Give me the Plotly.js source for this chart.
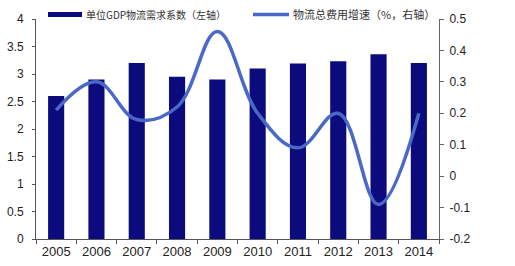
<!DOCTYPE html>
<html>
<head>
<meta charset="utf-8">
<script src="https://cdn.plot.ly/plotly-3.0.1.min.js"></script>
<style>html,body{margin:0;padding:0;background:#fff;}#chart{width:515px;height:266px;}</style>
</head>
<body>
<div id="chart"></div>
<script>
const years = ['2005','2006','2007','2008','2009','2010','2011','2012','2013','2014'];
const demandCoef = [2.6, 2.9, 3.2, 2.95, 2.9, 3.1, 3.19, 3.23, 3.36, 3.2];
const costGrowth = [0.21, 0.30, 0.18, 0.22, 0.46, 0.20, 0.09, 0.20, -0.09, 0.20];
const barName = '单位GDP物流需求系数（左轴）';
const lineName = '物流总费用增速（%，右轴）';
const leftTicks = [0, 0.5, 1, 1.5, 2, 2.5, 3, 3.5, 4];
const rightTicks = [-0.2, -0.1, 0, 0.1, 0.2, 0.3, 0.4, 0.5];

const barColor = '#0b0b7d';
const lineColor = '#4a68c6';
const tickFont = {family: 'Liberation Sans, Arial, sans-serif', size: 12, color: '#222'};
const xTickFont = {family: 'Liberation Sans, Arial, sans-serif', size: 13, color: '#222'};
const legFont1 = {family: 'Noto Sans CJK SC, sans-serif', size: 10, color: '#333'};
const legFont2 = {family: 'Noto Sans CJK SC, sans-serif', size: 11, color: '#333'};

const traces = [
  {type: 'bar', x: years, y: demandCoef, name: barName, marker: {color: barColor}, width: 0.4, yaxis: 'y'},
  {type: 'scatter', mode: 'lines', x: years, y: costGrowth, name: lineName, yaxis: 'y2',
   line: {color: lineColor, width: 3.5, shape: 'spline', smoothing: 1.1}}
];

const layout = {
  width: 515, height: 266,
  margin: {l: 36, r: 76, t: 19, b: 27, pad: 0},
  paper_bgcolor: '#fff', plot_bgcolor: '#fff',
  showlegend: false,
  xaxis: {type: 'category', range: [-0.5, 9.5], showgrid: false, zeroline: false,
    showline: true, linecolor: '#555', linewidth: 1,
    ticks: 'outside', tickson: 'boundaries', ticklen: 4, tickcolor: '#555',
    tickfont: xTickFont, fixedrange: true},
  yaxis: {range: [0, 4], tickvals: leftTicks, ticktext: leftTicks.map(String),
    showgrid: false, zeroline: false, showline: true, linecolor: '#555', linewidth: 1,
    ticks: 'outside', ticklen: 3, tickcolor: '#555', ticklabelstandoff: 6, tickfont: tickFont},
  yaxis2: {range: [-0.2, 0.5], tickvals: rightTicks, ticktext: rightTicks.map(v => String(Math.round(v*10)/10)),
    overlaying: 'y', side: 'right', showgrid: false, zeroline: false,
    showline: true, linecolor: '#666', linewidth: 1,
    ticks: 'outside', ticklen: 4, tickcolor: '#666', ticklabelstandoff: 3, tickfont: tickFont},
  shapes: [
    {type: 'rect', xref: 'paper', yref: 'paper', x0: 12/403, x1: 46/403, y0: (239-17)/220, y1: (239-12)/220,
     fillcolor: barColor, line: {width: 0}},
    {type: 'line', xref: 'paper', yref: 'paper', x0: 217/403, x1: 253/403, y0: (239-14.5)/220, y1: (239-14.5)/220,
     line: {color: lineColor, width: 3.5}}
  ],
  annotations: [
    {xref: 'paper', yref: 'paper', x: 48/403, y: (239-14.5)/220, xanchor: 'left', yanchor: 'middle',
     text: barName, showarrow: false, font: legFont1},
    {xref: 'paper', yref: 'paper', x: 255/403, y: (239-14.5)/220, xanchor: 'left', yanchor: 'middle',
     text: lineName, showarrow: false, font: legFont2}
  ]
};

Plotly.newPlot('chart', traces, layout, {staticPlot: true, displayModeBar: false});
</script>
</body>
</html>
